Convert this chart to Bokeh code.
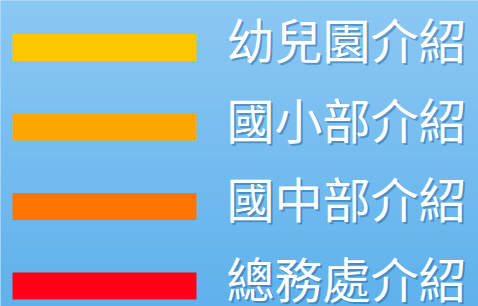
from bokeh.plotting import figure
from bokeh.models import ColumnDataSource, Range1d
from bokeh.core.properties import value
from bokeh.embed import file_html
from bokeh.resources import INLINE
import numpy as np

labels = ["幼兒園介紹", "國小部介紹", "國中部介紹", "總務處介紹"]
rank = [0, 1, 2, 3]
lengths = [1, 1, 1, 1]
colors = ["#FDC700", "#FEA700", "#FF7500", "#FF0018"]

src = ColumnDataSource(dict(y=rank, v=lengths, label=labels, color=colors))

W, H = 478, 306
x0, x1 = -0.0652, 2.5326
y0, y1 = -0.591, 3.258
p = figure(width=W, height=H, output_backend="svg", toolbar_location=None,
           x_range=Range1d(x0, x1), y_range=Range1d(y1, y0),
           min_border=0)
p.axis.visible = False
p.grid.visible = False
p.outline_line_color = None
p.background_fill_color = "#6cb9ee"
p.border_fill_color = "#6cb9ee"

# sky gradient backdrop (decorative)
ny = 64
t = np.linspace(0, 1, ny)
top = np.array([140, 200, 244]); bot = np.array([96, 178, 236])
img = np.zeros((ny, 2), dtype=np.uint32)
view = img.view(dtype=np.uint8).reshape((ny, 2, 4))
for i in range(ny):
    c = top * (1 - t[i]) + bot * t[i]
    view[i, :, 0] = int(c[0]); view[i, :, 1] = int(c[1]); view[i, :, 2] = int(c[2]); view[i, :, 3] = 255
p.image_rgba(image=[img], x=x0, y=y0, dw=x1 - x0, dh=y1 - y0)

p.hbar(y="y", left=0, right="v", height=0.34, color="color", line_color=None, source=src)

p.text(x="v", y="y", text="label", source=src, x_offset=32, y_offset=-7,
       text_font=value("Noto Sans CJK TC"), text_font_size="48px",
       text_color="#1d5a90", text_alpha=0.45, text_align="left", text_baseline="middle")
p.text(x="v", y="y", text="label", source=src, x_offset=30, y_offset=-9,
       text_font=value("Noto Sans CJK TC"), text_font_size="48px",
       text_color="white", text_align="left", text_baseline="middle")

html = file_html(p, INLINE)
html = html.replace("<body>", '<body style="margin:0">', 1)
open("out.html", "w").write(html)
